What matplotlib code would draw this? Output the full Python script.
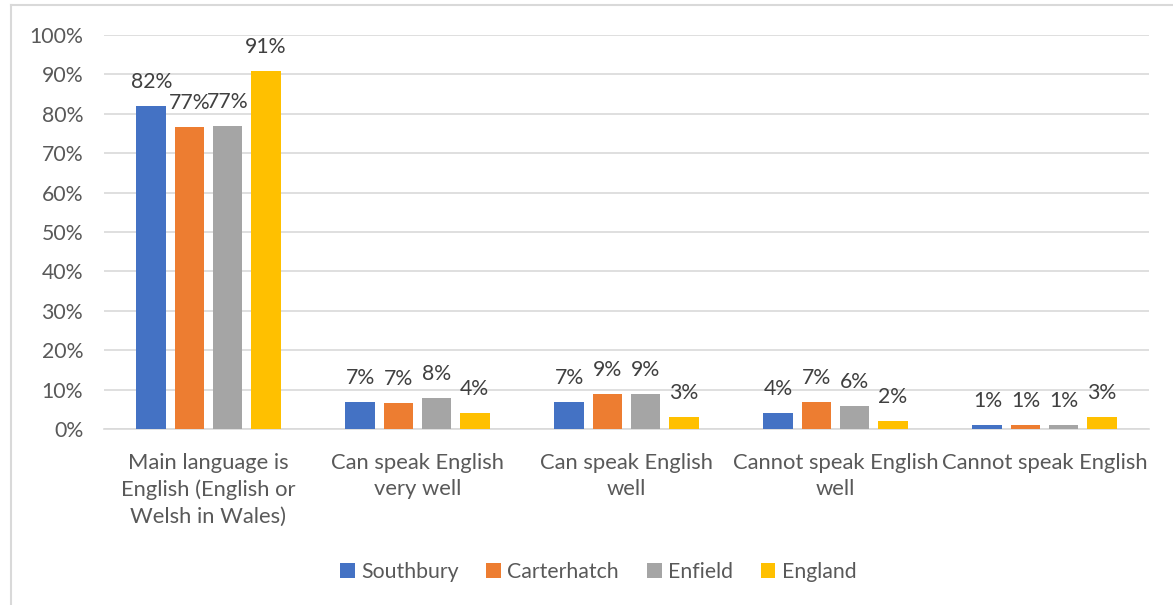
import numpy as np
import matplotlib
matplotlib.use("Agg")
import matplotlib.pyplot as plt
from matplotlib.lines import Line2D
from matplotlib.patches import Patch

categories = ["Main language is\nEnglish (English or\nWelsh in Wales)",
              "Can speak English\nvery well",
              "Can speak English\nwell",
              "Cannot speak English\nwell",
              "Cannot speak English"]
series_names = ["Southbury", "Carterhatch", "Enfield", "England"]
southbury = [82.0, 6.9, 6.9, 4.1, 1.0]
carterhatch = [76.6, 6.7, 9.0, 6.9, 1.0]
enfield = [77.0, 7.9, 9.0, 5.9, 1.0]
england = [90.9, 4.1, 3.0, 2.0, 3.0]
colors = ["#4472c4", "#ed7d31", "#a5a5a5", "#ffc000"]
yticks = np.arange(0, 101, 10)

plt.rcParams['font.family'] = ['Lato', 'DejaVu Sans']
text_col = "#595959"
grid_col = "#d9d9d9"

W, H = 1173, 605
fig = plt.figure(figsize=(W / 100, H / 100), dpi=100)
ax = fig.add_axes([104 / W, 176 / H, (1149 - 104) / W, (429 - 35) / H])

all_series = [southbury, carterhatch, enfield, england]
x = np.arange(len(categories))
bar_w = 0.143
step = 0.182
for i, (vals, col) in enumerate(zip(all_series, colors)):
    pos = x + (i - 1.5) * step
    bars = ax.bar(pos, vals, width=bar_w, color=col, zorder=3)
    for b, v in zip(bars, vals):
        ax.annotate("%d%%" % round(v), (b.get_x() + b.get_width() / 2, v),
                    xytext=(0, 10), textcoords="offset points",
                    ha="center", va="bottom", fontsize=15.3, color="#404040")

ax.set_xlim(-0.5, len(categories) - 0.5)
ax.set_ylim(0, 100)
ax.set_yticks(yticks)
ax.set_yticklabels(["%d%%" % t for t in yticks])
ax.set_xticks(x)
ax.set_xticklabels(categories, linespacing=1.42)
ax.tick_params(axis="both", length=0, labelcolor=text_col)
ax.tick_params(axis="y", pad=15, labelsize=15.3)
ax.tick_params(axis="x", pad=17, labelsize=15.8)
ax.grid(axis="y", color=grid_col, linewidth=1.2, zorder=0)
for s in ["top", "right", "left"]:
    ax.spines[s].set_visible(False)
ax.spines["bottom"].set_color(grid_col)
ax.spines["bottom"].set_linewidth(1.2)

handles = [Patch(facecolor=c, edgecolor="none") for c in colors]
fig.legend(handles, series_names, loc="center", bbox_to_anchor=(598 / W, 1 - 572 / H),
           ncol=4, frameon=False, fontsize=15.3, labelcolor=text_col,
           handlelength=0.7, handleheight=0.7, handletextpad=0.3, columnspacing=1.3)

# outer chart frame
fig.add_artist(Line2D([11 / W, 11 / W], [0, 1 - 5 / H], color=grid_col, linewidth=1.5))
fig.add_artist(Line2D([11 / W, 1], [1 - 5 / H, 1 - 5 / H], color=grid_col, linewidth=1.5))

fig.savefig("out.png", dpi=100)
